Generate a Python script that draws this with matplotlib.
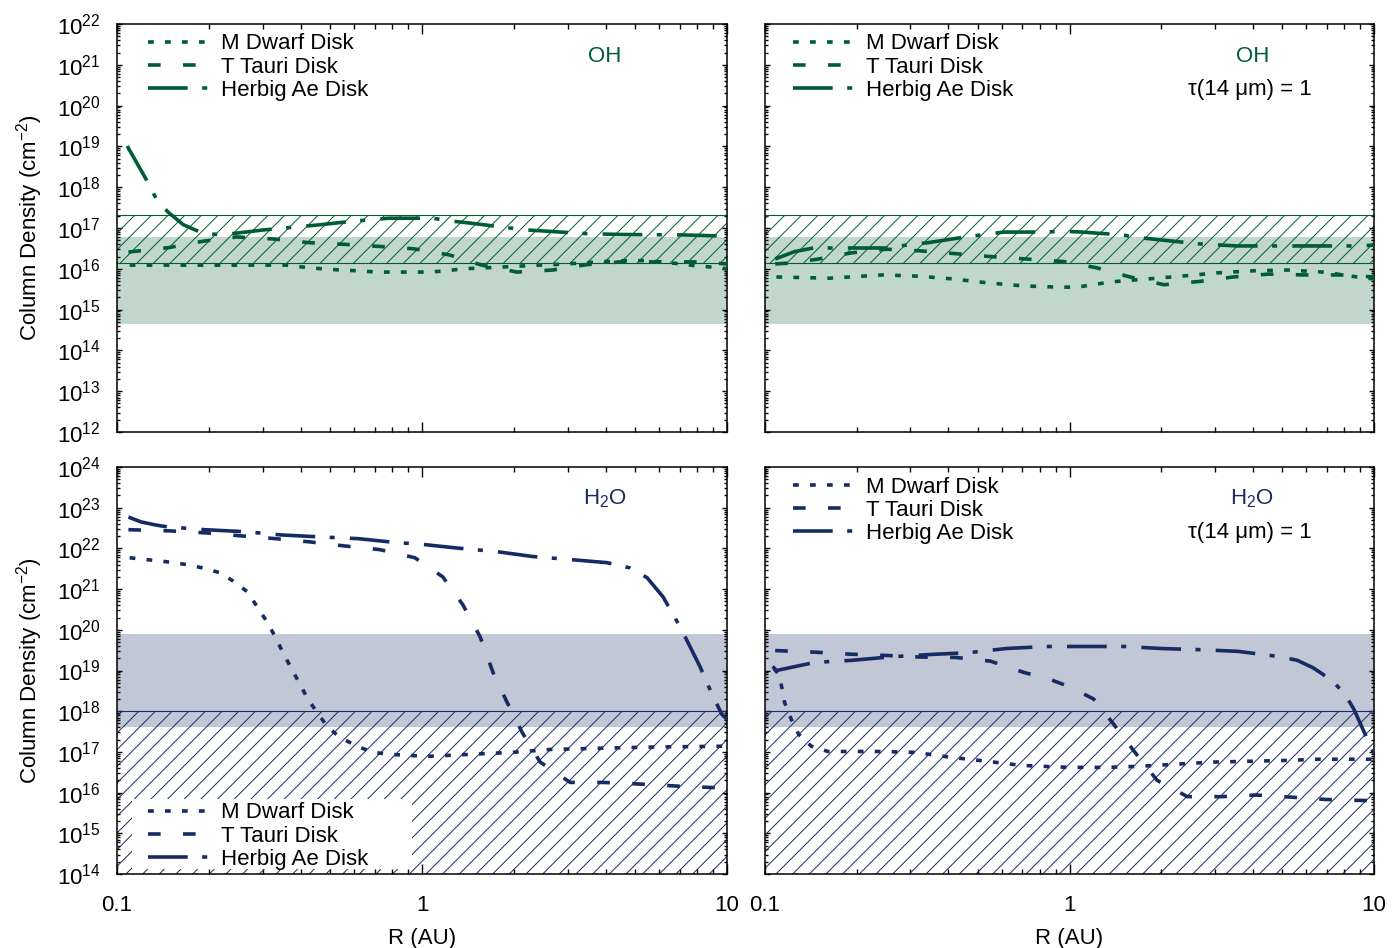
import numpy as np
import matplotlib
matplotlib.use("Agg")
import matplotlib.pyplot as plt
from matplotlib.ticker import LogLocator, NullFormatter, FixedLocator, FixedFormatter
from matplotlib.patches import Rectangle

plt.rcParams['font.family'] = ['Liberation Sans', 'DejaVu Sans']
plt.rcParams['mathtext.fontset'] = 'custom'
plt.rcParams['mathtext.rm'] = 'Liberation Sans'
plt.rcParams['mathtext.it'] = 'Liberation Sans:italic'
plt.rcParams['hatch.linewidth'] = 0.7
plt.rcParams['font.size'] = 16

GREEN = '#005c35'
GREEN_BAND = '#c1d6cc'
NAVY = '#162b63'
NAVY_BAND = '#c2c7d6'

labels = ['M Dwarf Disk', 'T Tauri Disk', 'Herbig Ae Disk']

# ---- OH, no optical depth cut (log10 column density)
oh_mdw_r = [0.11, 0.2, 0.36, 0.41, 0.47, 0.54, 0.62, 0.71, 0.93, 1.05, 1.2, 1.36, 1.8, 2.4, 3.0, 3.8, 4.6, 5.3, 6.1, 7.0, 8.0, 9.0, 10.0]
oh_mdw_n = [16.09, 16.09, 16.09, 16.04, 16.0, 15.97, 15.95, 15.92, 15.92, 15.92, 15.95, 16.0, 16.04, 16.09, 16.12, 16.17, 16.2, 16.2, 16.17, 16.12, 16.07, 16.04, 16.0]
oh_tt_r = [0.109, 0.148, 0.193, 0.247, 0.327, 0.426, 0.555, 0.72, 0.94, 1.23, 1.57, 2.05, 2.68, 3.46, 4.48, 5.9, 7.8, 10.0]
oh_tt_n = [16.41, 16.52, 16.68, 16.78, 16.73, 16.64, 16.60, 16.55, 16.49, 16.34, 16.09, 15.92, 15.97, 16.10, 16.17, 16.17, 16.17, 16.12]
oh_hae_r = [0.108, 0.126, 0.135, 0.147, 0.165, 0.19, 0.22, 0.3, 0.45, 0.6, 0.78, 1.08, 1.25, 1.44, 1.94, 2.23, 3.48, 4.63, 7.2, 10.0]
oh_hae_n = [19.01, 18.13, 17.69, 17.39, 17.08, 16.88, 16.83, 16.95, 17.07, 17.17, 17.24, 17.24, 17.17, 17.12, 17.0, 16.95, 16.86, 16.84, 16.83, 16.80]

# ---- OH, tau(14 um) = 1
ohr_mdw_r = [0.109, 0.163, 0.244, 0.318, 0.417, 0.545, 0.71, 0.92, 1.06, 1.37, 1.80, 2.33, 3.06, 3.98, 5.2, 6.8, 8.8, 10.0]
ohr_mdw_n = [15.80, 15.77, 15.85, 15.82, 15.75, 15.65, 15.58, 15.55, 15.55, 15.68, 15.75, 15.82, 15.90, 15.95, 15.97, 15.92, 15.80, 15.75]
ohr_tt_r = [0.108, 0.121, 0.147, 0.192, 0.25, 0.323, 0.424, 0.55, 0.72, 0.95, 1.22, 1.58, 2.04, 2.67, 3.45, 4.5, 5.9, 7.8, 10.0]
ohr_tt_n = [16.12, 16.14, 16.23, 16.39, 16.48, 16.44, 16.37, 16.30, 16.24, 16.18, 16.03, 15.80, 15.61, 15.69, 15.80, 15.87, 15.85, 15.85, 15.80]
ohr_hae_r = [0.108, 0.125, 0.144, 0.19, 0.26, 0.295, 0.343, 0.464, 0.61, 0.83, 0.95, 1.1, 1.49, 1.71, 1.98, 2.68, 3.55, 4.8, 8.7, 10.0]
ohr_hae_n = [16.24, 16.42, 16.51, 16.51, 16.51, 16.59, 16.64, 16.79, 16.90, 16.90, 16.92, 16.90, 16.83, 16.76, 16.71, 16.61, 16.56, 16.56, 16.56, 16.58]

# ---- H2O, no optical depth cut
h2o_mdw_r = [0.11, 0.146, 0.17, 0.191, 0.218, 0.24, 0.267, 0.288, 0.31, 0.33, 0.35, 0.375, 0.398, 0.423, 0.453, 0.492, 0.538, 0.612, 0.691, 0.785, 1.04, 1.99, 2.63, 3.84, 5.72, 10.0]
h2o_mdw_n = [21.77, 21.67, 21.6, 21.52, 21.4, 21.2, 20.94, 20.57, 20.2, 19.83, 19.44, 19.02, 18.66, 18.29, 17.97, 17.6, 17.36, 17.14, 16.99, 16.94, 16.89, 16.99, 17.06, 17.09, 17.12, 17.14]
h2o_tt_r = [0.109, 0.149, 0.197, 0.253, 0.33, 0.429, 0.558, 0.727, 0.948, 1.17, 1.36, 1.55, 1.71, 1.90, 2.13, 2.44, 3.06, 3.92, 5.18, 6.86, 10.0]
h2o_tt_n = [22.46, 22.43, 22.38, 22.31, 22.24, 22.16, 22.06, 21.97, 21.77, 21.30, 20.62, 19.83, 18.95, 18.22, 17.48, 16.75, 16.25, 16.25, 16.21, 16.16, 16.11]
h2o_hae_r = [0.109, 0.12, 0.135, 0.146, 0.194, 0.263, 0.347, 0.47, 0.616, 0.833, 0.97, 1.30, 1.76, 2.31, 3.13, 4.04, 4.81, 5.47, 6.17, 7.01, 7.56, 8.15, 9.0, 9.63, 10.0]
h2o_hae_n = [22.77, 22.65, 22.57, 22.53, 22.46, 22.41, 22.33, 22.28, 22.24, 22.14, 22.11, 22.01, 21.92, 21.80, 21.72, 21.65, 21.52, 21.28, 20.81, 20.08, 19.59, 19.10, 18.36, 17.92, 17.80]

# ---- H2O, tau(14 um) = 1
h2or_mdw_r = [0.107, 0.111, 0.114, 0.116, 0.122, 0.129, 0.142, 0.161, 0.186, 0.239, 0.31, 0.405, 0.535, 0.69, 0.79, 1.0, 1.33, 1.74, 2.26, 2.97, 3.9, 5.1, 6.6, 10.0]
h2or_mdw_n = [19.05, 18.9, 18.53, 18.21, 17.80, 17.43, 17.14, 17.01, 17.01, 17.01, 16.99, 16.87, 16.77, 16.67, 16.65, 16.62, 16.62, 16.65, 16.70, 16.75, 16.77, 16.79, 16.82, 16.82]
h2or_tt_r = [0.108, 0.147, 0.192, 0.25, 0.325, 0.424, 0.55, 0.71, 0.85, 1.0, 1.2, 1.39, 1.64, 1.94, 2.44, 3.15, 4.1, 5.3, 7.0, 10.0]
h2or_tt_n = [19.49, 19.45, 19.40, 19.37, 19.33, 19.32, 19.23, 18.95, 18.80, 18.60, 18.30, 17.70, 16.99, 16.30, 15.90, 15.90, 15.94, 15.89, 15.83, 15.80]
h2or_hae_r = [0.106, 0.109, 0.146, 0.193, 0.263, 0.343, 0.47, 0.62, 0.84, 1.26, 1.52, 2.0, 2.73, 3.58, 4.9, 5.6, 6.3, 7.2, 8.0, 8.6, 9.1, 10.0]
h2or_hae_n = [19.10, 19.0, 19.2, 19.25, 19.34, 19.39, 19.44, 19.54, 19.59, 19.59, 19.59, 19.54, 19.51, 19.47, 19.34, 19.25, 19.07, 18.78, 18.44, 18.04, 17.63, 16.95]

# observed ranges (solid band, hatched band)
oh_band = (4.4e14, 6.1e16)
oh_hatch = (1.4e16, 2.1e17)
h2o_band = (4e17, 8e19)
h2o_hatch = (1e14, 1e18)

LW = 2.6
styles = [(0, (1.6, 3.1)), (0, (3.5, 6.2)), (0, (11, 4, 1.4, 4.2))]

fig = plt.figure(figsize=(13.97, 9.48), dpi=100)
W, H = 1397., 948.
def axes_at(x0, x1, y0, y1):
    return fig.add_axes([x0 / W, 1 - y1 / H, (x1 - x0) / W, (y1 - y0) / H])

ax_tl = axes_at(117, 727, 24, 432)
ax_tr = axes_at(765, 1374, 24, 432)
ax_bl = axes_at(117, 727, 467, 874)
ax_br = axes_at(765, 1374, 467, 874)


def setup(ax, ylo, yhi, left_labels, bottom_labels):
    ax.set_xscale('log')
    ax.set_yscale('log')
    ax.set_xlim(0.1, 10)
    ax.set_ylim(ylo, yhi)
    ax.yaxis.set_major_locator(LogLocator(base=10, numticks=100))
    ax.yaxis.set_minor_locator(LogLocator(base=10, subs=np.arange(2, 10), numticks=100))
    ax.yaxis.set_minor_formatter(NullFormatter())
    ax.xaxis.set_major_locator(FixedLocator([0.1, 1, 10]))
    ax.xaxis.set_major_formatter(FixedFormatter(['0.1', '1', '10']))
    ax.xaxis.set_minor_locator(LogLocator(base=10, subs=np.arange(2, 10), numticks=100))
    ax.xaxis.set_minor_formatter(NullFormatter())
    ax.tick_params(which='both', direction='in', top=True, right=True, width=1.0, color='k')
    ax.tick_params(axis='x', which='major', length=7, pad=15)
    ax.tick_params(axis='x', which='minor', length=3.6)
    ax.tick_params(axis='y', which='major', length=3.6, pad=12)
    ax.tick_params(axis='y', which='minor', length=2)
    ax.tick_params(labelleft=left_labels, labelbottom=bottom_labels, labelsize=16)
    for s in ax.spines.values():
        s.set_linewidth(1.1)
    if left_labels:
        ax.set_ylabel('Column Density (cm$^{-2}$)', fontsize=16)
        ax.yaxis.set_label_coords(-0.118, 0.5)
    if bottom_labels:
        ax.set_xlabel('R (AU)', fontsize=16)
        ax.xaxis.set_label_coords(0.5, -0.133)


def bands(ax, band, hatch, color, fill, top_line_only):
    ax.axhspan(band[0], band[1], facecolor=fill, edgecolor='none', zorder=1)
    ax.axhspan(hatch[0], hatch[1], facecolor='none', edgecolor=color, hatch='//',
               linewidth=0, zorder=2)
    ax.axhline(hatch[1], color=color, lw=0.8, zorder=2)
    if not top_line_only:
        ax.axhline(hatch[0], color=color, lw=0.8, zorder=2)


def curves(ax, series, color):
    handles = []
    for (r, n), ls, lab in zip(series, styles, labels):
        h, = ax.plot(r, 10 ** np.array(n), color=color, lw=LW, linestyle=ls,
                     label=lab, zorder=4)
        handles.append(h)
    return handles


def add_legend(ax, handles, x0, y0):
    leg = ax.legend(handles=handles, loc='upper left', bbox_to_anchor=(x0, y0),
                    frameon=False, fontsize=16, handlelength=2.7, handletextpad=0.6,
                    labelspacing=0.1, borderpad=0, borderaxespad=0)
    leg.set_zorder(6)
    return leg


setup(ax_tl, 1e12, 1e22, True, False)
setup(ax_tr, 1e12, 1e22, False, False)
setup(ax_bl, 1e14, 1e24, True, True)
setup(ax_br, 1e14, 1e24, False, True)

bands(ax_tl, oh_band, oh_hatch, GREEN, GREEN_BAND, False)
bands(ax_tr, oh_band, oh_hatch, GREEN, GREEN_BAND, False)
bands(ax_bl, h2o_band, h2o_hatch, NAVY, NAVY_BAND, True)
bands(ax_br, h2o_band, h2o_hatch, NAVY, NAVY_BAND, True)

h = curves(ax_tl, [(oh_mdw_r, oh_mdw_n), (oh_tt_r, oh_tt_n), (oh_hae_r, oh_hae_n)], GREEN)
add_legend(ax_tl, h, 0.051, 0.977)
h = curves(ax_tr, [(ohr_mdw_r, ohr_mdw_n), (ohr_tt_r, ohr_tt_n), (ohr_hae_r, ohr_hae_n)], GREEN)
add_legend(ax_tr, h, 0.046, 0.977)
h = curves(ax_bl, [(h2o_mdw_r, h2o_mdw_n), (h2o_tt_r, h2o_tt_n), (h2o_hae_r, h2o_hae_n)], NAVY)
ax_bl.add_patch(Rectangle((0.0246, 0.0123), 0.459, 0.172, transform=ax_bl.transAxes,
                          facecolor='white', edgecolor='none', zorder=5))
add_legend(ax_bl, h, 0.0505, 0.176)
h = curves(ax_br, [(h2or_mdw_r, h2or_mdw_n), (h2or_tt_r, h2or_tt_n), (h2or_hae_r, h2or_hae_n)], NAVY)
add_legend(ax_br, h, 0.046, 0.976)

ax_tl.text(0.8, 0.921, 'OH', transform=ax_tl.transAxes, color=GREEN, ha='center', va='center', fontsize=16)
ax_tr.text(0.8, 0.921, 'OH', transform=ax_tr.transAxes, color=GREEN, ha='center', va='center', fontsize=16)
ax_tr.text(0.797, 0.839, 'τ(14 μm) = 1', transform=ax_tr.transAxes, ha='center', va='center', fontsize=16)
ax_bl.text(0.8, 0.921, 'H$_2$O', transform=ax_bl.transAxes, color=NAVY, ha='center', va='center', fontsize=16)
ax_br.text(0.8, 0.921, 'H$_2$O', transform=ax_br.transAxes, color=NAVY, ha='center', va='center', fontsize=16)
ax_br.text(0.797, 0.838, 'τ(14 μm) = 1', transform=ax_br.transAxes, ha='center', va='center', fontsize=16)

fig.savefig('out.png', dpi=100)
